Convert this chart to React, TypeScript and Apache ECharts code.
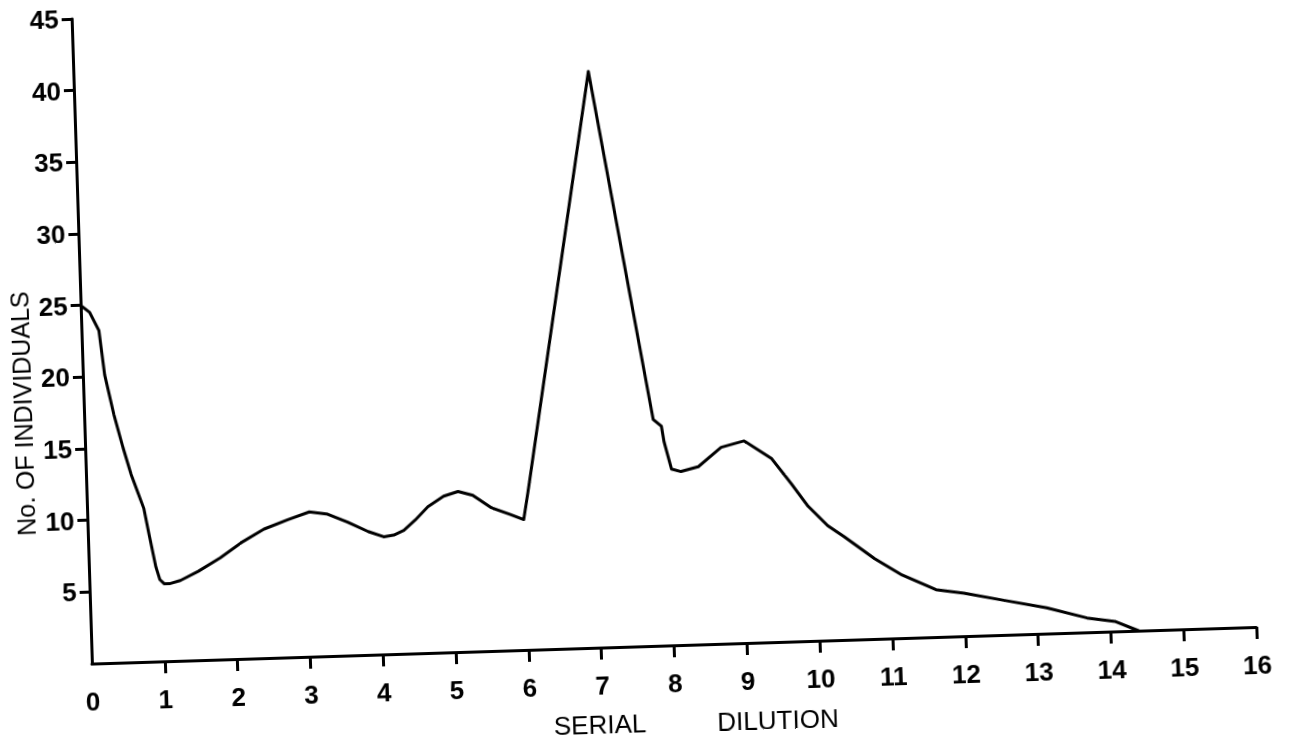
import React, { useEffect, useRef } from "react";
import * as echarts from "echarts";

// Serial dilution (x) and number of individuals (y)
const dilution: number[] = [
  0, 0.12, 0.24, 0.3, 0.41, 0.52, 0.62, 0.78, 0.84, 0.92, 0.97, 1.03, 1.1, 1.25, 1.5, 1.81, 2.1, 2.42, 2.75,
  3.05, 3.3, 3.57, 3.85, 4.06, 4.2, 4.34, 4.5, 4.68, 4.9, 5.1, 5.3, 5.55, 5.8, 5.99, 6.06, 7.07,
  7.81, 7.92, 7.95, 8.04, 8.17, 8.41, 8.73, 9.05, 9.42, 9.68, 9.9, 10.16, 10.38, 10.79, 11.16,
  11.62, 12.0, 12.56, 13.13, 13.68, 14.06, 14.38,
];
const individuals: number[] = [
  25.0, 24.5, 23.2, 20.1, 17.3, 15.0, 13.1, 10.7, 8.9, 6.6, 5.7, 5.4, 5.4, 5.6, 6.2, 7.1, 8.1, 9.0, 9.6,
  10.1, 9.9, 9.3, 8.6, 8.2, 8.3, 8.6, 9.3, 10.2, 10.9, 11.2, 10.9, 10.0, 9.5, 9.1, 11.0, 40.2,
  15.8, 15.3, 14.2, 12.3, 12.1, 12.4, 13.7, 14.1, 12.8, 11.0, 9.4, 8.0, 7.2, 5.6, 4.4,
  3.3, 3.0, 2.4, 1.8, 1.0, 0.7, 0.0,
];

const xTickValues: number[] = [1, 2, 3, 4, 5, 6, 7, 8, 9, 10, 11, 12, 13, 14, 15, 16];
const xLabelValues: number[] = [0, 1, 2, 3, 4, 5, 6, 7, 8, 9, 10, 11, 12, 13, 14, 15, 16];
const yTickValues: number[] = [5, 10, 15, 20, 25, 30, 35, 40, 45];

const xTitleWords: string[] = ["SERIAL", "DILUTION"];
const yTitle = "No. OF INDIVIDUALS";

const FONT = '"Liberation Sans", Arial, sans-serif';

export default function App() {
  const ref = useRef<HTMLDivElement>(null);

  useEffect(() => {
    if (!ref.current) return;
    const chart = echarts.init(ref.current, null, { renderer: "svg" });
    const data = dilution.map((x, i) => [x, individuals[i]]);
    const axisLine = { show: true, lineStyle: { color: "#000", width: 3 } };
    const titleStyle = {
      fill: "#000",
      fontSize: 26,
      fontFamily: FONT,
      align: "center",
      verticalAlign: "middle",
    };
    chart.setOption({
      animation: false,
      backgroundColor: "#fff",
      grid: { left: 103, top: 31, width: 1165, height: 645, containLabel: false },
      xAxis: {
        type: "value",
        min: 0,
        max: 16,
        interval: 1,
        axisLine: { ...axisLine, onZero: false },
        axisTick: {
          show: true,
          length: 12,
          inside: false,
          customValues: xTickValues,
          lineStyle: { color: "#000", width: 3 },
        },
        axisLabel: {
          customValues: xLabelValues,
          margin: 25,
          color: "#000",
          fontSize: 26,
          fontWeight: "bold",
          fontFamily: FONT,
        },
        splitLine: { show: false },
      },
      yAxis: {
        type: "value",
        min: 0,
        max: 45,
        interval: 5,
        axisLine: { ...axisLine, onZero: false },
        axisTick: {
          show: true,
          length: 10,
          customValues: yTickValues,
          lineStyle: { color: "#000", width: 3 },
        },
        axisLabel: {
          customValues: yTickValues,
          margin: 13,
          color: "#000",
          fontSize: 26,
          fontWeight: "bold",
          fontFamily: FONT,
        },
        splitLine: { show: false },
      },
      graphic: [
        {
          type: "text",
          x: 609,
          y: 753,
          style: { ...titleStyle, text: xTitleWords[0] },
        },
        {
          type: "text",
          x: 787,
          y: 754,
          style: { ...titleStyle, text: xTitleWords[1] },
        },
        {
          type: "text",
          x: 42,
          y: 424,
          rotation: Math.PI / 2,
          style: { ...titleStyle, fontSize: 25, text: yTitle },
        },
      ],
      series: [
        {
          type: "line",
          data,
          showSymbol: false,
          smooth: false,
          lineStyle: { color: "#000", width: 3, join: "round", cap: "round" },
        },
      ],
    });
    return () => chart.dispose();
  }, []);

  return (
    <div
      ref={ref}
      style={{
        position: "fixed",
        left: -20,
        top: -30,
        width: 1334,
        height: 803,
        transform: "rotate(-1.8deg)",
        transformOrigin: "50% 50%",
        background: "#fff",
      }}
    />
  );
}
